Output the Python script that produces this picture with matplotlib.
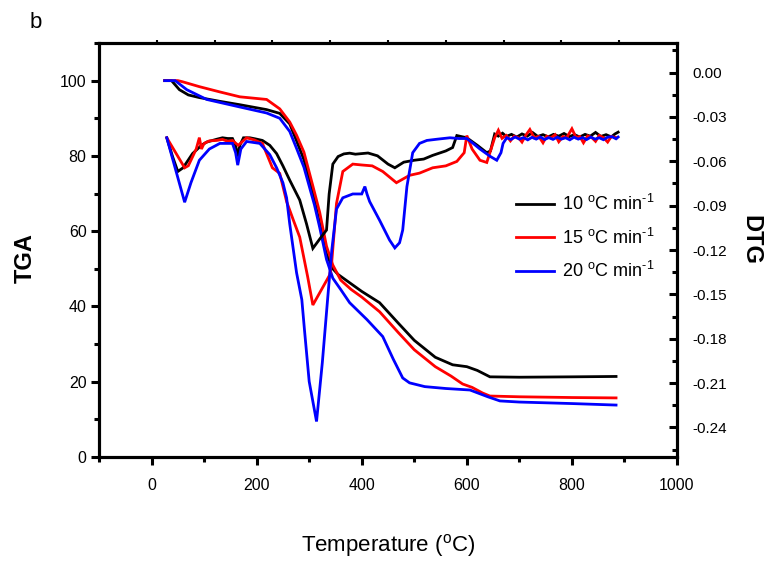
import matplotlib
matplotlib.use('Agg')
import matplotlib.pyplot as plt
from matplotlib.ticker import MultipleLocator, FixedLocator, FuncFormatter

plt.rcParams['font.family'] = ['Liberation Sans', 'DejaVu Sans']
plt.rcParams['mathtext.fontset'] = 'custom'
plt.rcParams['mathtext.rm'] = 'Liberation Sans'
plt.rcParams['mathtext.it'] = 'Liberation Sans:italic'
plt.rcParams['mathtext.bf'] = 'Liberation Sans:bold'

# ---------------- data ----------------
labels = [r'10 $^{\rm o}$C min$^{\text{-1}}$', r'15 $^{\rm o}$C min$^{\text{-1}}$', r'20 $^{\rm o}$C min$^{\text{-1}}$']
colors = ['#000000', '#ff0000', '#0000ff']

# TGA (%), left axis
tga10_T = [25, 38, 53, 70, 91, 130, 168, 219, 244, 263, 276, 290, 307, 320, 333, 345, 355, 375, 400, 434, 470, 500, 540, 573, 600, 620, 644, 700, 800, 884]
tga10_v = [100, 100, 97.6, 96.2, 95.5, 94.5, 93.6, 92.3, 91.3, 88.5, 84, 79, 70, 62, 54, 50, 48.5, 46.5, 44, 41, 35.5, 31, 26.5, 24.5, 24, 23, 21.3, 21.2, 21.3, 21.4]

tga15_T = [25, 50, 59, 91, 130, 168, 219, 244, 263, 276, 290, 307, 320, 333, 345, 360, 380, 400, 434, 470, 500, 540, 570, 592, 610, 630, 644, 700, 800, 884]
tga15_v = [100, 100, 99.7, 98.4, 97, 95.7, 95, 92.5, 89, 85.5, 81, 72, 65, 56, 51, 47, 44.5, 42.5, 38.6, 33, 28.5, 24, 21.5, 19.4, 18.5, 17, 16.2, 16, 15.8, 15.7]

tga20_T = [25, 45, 67, 105, 168, 219, 244, 263, 276, 290, 310, 320, 333, 345, 360, 377, 410, 440, 460, 478, 491, 520, 560, 606, 640, 663, 700, 800, 884]
tga20_v = [100, 100, 97.6, 95, 93, 91.4, 90, 86.5, 82, 77, 67, 61, 52.5, 47.5, 44.5, 41, 36.5, 32, 26, 21, 19.7, 18.7, 18.2, 17.8, 16, 14.9, 14.6, 14.2, 13.8]

# DTG, right axis
dtg10_T = [29, 40, 50, 60, 78, 95, 105, 116, 125, 135, 145, 154, 160, 164, 168, 175, 187, 197, 211, 225, 238, 250, 263, 282, 295, 307, 320, 333, 338, 345, 355, 366, 377, 388, 400, 412, 430, 450, 463, 480, 500, 518, 535, 560, 573, 581, 600, 620, 638, 645, 653,
           660, 668, 675, 685, 695, 705, 715, 725, 735, 745, 755, 765, 775, 785, 795, 805, 815, 825, 835, 845, 855, 865, 875, 882, 888]
dtg10_v = [-0.0441, -0.0568, -0.0669, -0.0644, -0.0548, -0.0492, -0.0470, -0.0459, -0.0450, -0.0441, -0.0446, -0.0446, -0.0492, -0.0568, -0.0492, -0.0441, -0.0441, -0.0448, -0.0459, -0.0492, -0.0548, -0.0631, -0.0728, -0.0862, -0.1024, -0.1189, -0.1126, -0.1065, -0.0821, -0.0619, -0.0568, -0.0550, -0.0545, -0.0552, -0.0548, -0.0544, -0.0563, -0.0619, -0.0644, -0.0606, -0.0593, -0.0585, -0.0560, -0.0530, -0.0507, -0.0426, -0.0441, -0.0492, -0.0542, -0.0530, -0.0416,
           -0.0430, -0.0410, -0.0432, -0.0418, -0.0436, -0.0415, -0.0430, -0.0405, -0.0432, -0.0420, -0.0435, -0.0418, -0.0430, -0.0412, -0.0433, -0.0420, -0.0436, -0.0418, -0.0430, -0.0405, -0.0432, -0.0420, -0.0435, -0.0415, -0.0403]

dtg15_T = [29, 63, 70, 75, 85, 91, 95, 100, 110, 124, 135, 145, 154, 165, 181, 195, 211, 230, 244, 257, 270, 282, 297, 307, 339, 343, 352, 364, 383, 400, 420, 440, 466, 491, 510, 535, 560, 581, 595, 600, 610, 625, 638, 653,
           660, 667, 675, 683, 690, 698, 705, 712, 720, 728, 737, 745, 752, 760, 768, 775, 783, 790, 800, 808, 815, 822, 830, 838, 845, 852, 860, 868, 875, 885]
dtg15_v = [-0.0441, -0.0644, -0.0630, -0.0593, -0.0517, -0.0440, -0.0517, -0.0479, -0.0462, -0.0459, -0.0452, -0.0465, -0.0459, -0.0492, -0.0441, -0.0455, -0.0479, -0.0644, -0.0682, -0.0872, -0.0999, -0.1113, -0.1379, -0.1572, -0.1369, -0.1278, -0.0885, -0.0669, -0.0619, -0.0625, -0.0631, -0.0669, -0.0745, -0.0695, -0.0680, -0.0644, -0.0631, -0.0601, -0.0542, -0.0426, -0.0517, -0.0593, -0.0608, -0.0441,
           -0.0390, -0.0445, -0.0425, -0.0462, -0.0430, -0.0440, -0.0470, -0.0425, -0.0385, -0.0440, -0.0432, -0.0475, -0.0430, -0.0442, -0.0420, -0.0468, -0.0432, -0.0440, -0.0380, -0.0440, -0.0432, -0.0475, -0.0428, -0.0440, -0.0465, -0.0425, -0.0440, -0.0470, -0.0432, -0.0440]

dtg20_T = [29, 63, 75, 91, 110, 130, 154, 160, 164, 170, 181, 206, 225, 238, 250, 257, 263, 276, 286, 291, 300, 314, 325, 335, 343, 352, 364, 383, 400, 406, 410, 415, 434, 453, 463, 472, 478, 486, 497, 510, 524, 545, 568, 585, 600, 612, 625, 645, 657, 665, 669, 676,
           684, 692, 700, 708, 716, 724, 732, 740, 748, 756, 764, 772, 780, 788, 796, 804, 812, 820, 828, 836, 844, 852, 860, 868, 876, 884, 888]
dtg20_v = [-0.0441, -0.0877, -0.0745, -0.0593, -0.0517, -0.0479, -0.0479, -0.0542, -0.0626, -0.0517, -0.0466, -0.0479, -0.0555, -0.0644, -0.0745, -0.0847, -0.1024, -0.1354, -0.1536, -0.1739, -0.2089, -0.2360, -0.1962, -0.1536, -0.1202, -0.0923, -0.0847, -0.0821, -0.0821, -0.0771, -0.0821, -0.0872, -0.0999, -0.1133, -0.1186, -0.1151, -0.1065, -0.0771, -0.0542, -0.0479, -0.0459, -0.0450, -0.0441, -0.0446, -0.0446, -0.0479, -0.0517, -0.0568, -0.0593, -0.0542, -0.0479, -0.0441,
           -0.0452, -0.0436, -0.0450, -0.0440, -0.0455, -0.0438, -0.0450, -0.0436, -0.0453, -0.0440, -0.0452, -0.0437, -0.0450, -0.0441, -0.0455, -0.0437, -0.0450, -0.0440, -0.0453, -0.0436, -0.0450, -0.0441, -0.0454, -0.0437, -0.0433, -0.0448, -0.0436]

tga_T = [tga10_T, tga15_T, tga20_T]
tga_v = [tga10_v, tga15_v, tga20_v]
dtg_T = [dtg10_T, dtg15_T, dtg20_T]
dtg_v = [dtg10_v, dtg15_v, dtg20_v]

# ---------------- figure ----------------
fig = plt.figure(figsize=(7.64, 5.62), dpi=100)
ax = fig.add_axes([99 / 764, 1 - 457 / 562, 578 / 764, 414 / 562])
ax.patch.set_alpha(0)
ax2 = ax.twinx()
ax3 = ax.twiny()

lw = 2.0
handles = []
for T, v, c in zip(tga_T, tga_v, colors):
    h, = ax.plot(T, v, color=c, lw=lw, solid_joinstyle='miter')
    handles.append(h)
for T, v, c in zip(dtg_T, dtg_v, colors):
    ax2.plot(T, v, color=c, lw=lw, solid_joinstyle='miter')

ax.set_xlim(-100, 1000)
ax.set_ylim(0, 110)
ax2.set_ylim(-0.26, 0.02)
ax3.set_xlim(0, 10)

for a in (ax, ax2, ax3):
    for s in a.spines.values():
        s.set_linewidth(2.2)

ax.xaxis.set_major_locator(MultipleLocator(200))
ax.xaxis.set_minor_locator(MultipleLocator(100))
ax.yaxis.set_major_locator(MultipleLocator(20))
ax.yaxis.set_minor_locator(MultipleLocator(10))
ax.tick_params(axis='both', which='major', direction='out', length=6, width=2.2,
               labelsize=11.5, top=False, right=False)
ax.tick_params(axis='both', which='minor', direction='out', length=3.5, width=2.2,
               top=False, right=False)
ax.tick_params(axis='x', which='major', pad=9)
ax.tick_params(axis='y', which='major', pad=3)

# faint ticks on the top spine (from the overlaid DTG layer)
ax3.xaxis.set_major_locator(FixedLocator([1, 2, 3, 4, 5, 6, 7, 8, 9]))
ax3.tick_params(axis='x', which='major', direction='out', length=2, width=1.5, labeltop=False)

ax2.yaxis.set_major_locator(FixedLocator([0.00, -0.03, -0.06, -0.09, -0.12, -0.15, -0.18, -0.21, -0.24]))
ax2.yaxis.set_minor_locator(FixedLocator([0.015, -0.015, -0.045, -0.075, -0.105, -0.135, -0.165, -0.195, -0.225, -0.255]))
ax2.yaxis.set_major_formatter(FuncFormatter(lambda v, p: f'{v:.2f}'.replace('-0.00', '0.00')))
ax2.tick_params(axis='y', which='major', direction='in', length=6, width=2.2, labelsize=11, pad=11)
ax2.tick_params(axis='y', which='minor', direction='in', length=3.5, width=2.2)

ax.set_xlabel(r'Temperature ($^{\rm o}$C)', fontsize=16, labelpad=28)
fig.text(25 / 764, 1 - 258 / 562, 'TGA', rotation=90, fontsize=17, fontweight='bold',
         ha='center', va='center')
fig.text(751 / 764, 1 - 240 / 562, 'DTG', rotation=270, fontsize=17, fontweight='bold',
         ha='center', va='center')
fig.text(36 / 764, 1 - 22 / 562, 'b', fontsize=16, ha='center', va='center')

leg = ax.legend(handles, labels, loc='upper left', bbox_to_anchor=(516 / 764, 1 - 194 / 562),
                bbox_transform=fig.transFigure, frameon=False, fontsize=13,
                handlelength=2.1, handletextpad=0.45, labelspacing=0.75,
                borderpad=0, borderaxespad=0)

fig.savefig('out.png', dpi=100)
